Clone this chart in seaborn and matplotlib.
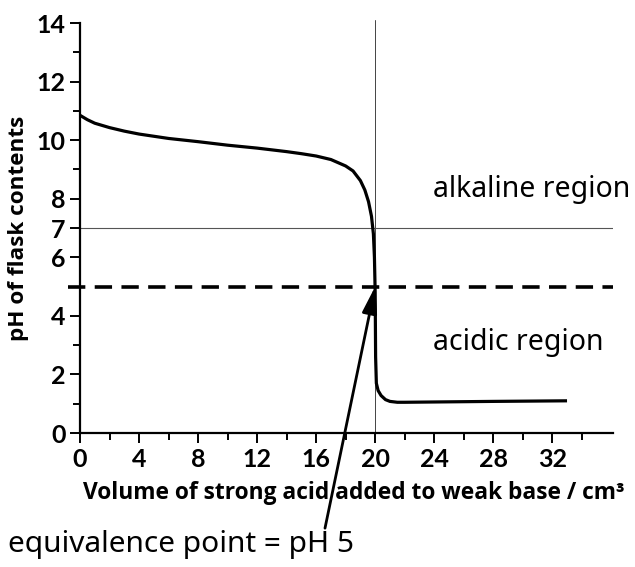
import matplotlib
matplotlib.use("Agg")
import matplotlib.pyplot as plt
import seaborn as sns
import numpy as np
import pandas as pd

# ---- data ----
volume = [0, 0.5, 1, 2, 3, 4, 6, 8, 10, 12, 14, 15, 16, 17, 18, 18.5, 19, 19.3,
          19.55, 19.75, 19.88, 19.95, 20.0, 20.03, 20.08, 20.2, 20.4, 20.7, 21.0,
          21.5, 22, 24, 28, 33]
ph = [10.85, 10.7, 10.58, 10.43, 10.31, 10.21, 10.06, 9.95, 9.83, 9.73, 9.61, 9.54,
      9.46, 9.34, 9.12, 8.95, 8.62, 8.3, 7.9, 7.4, 6.8, 6.0, 4.8, 2.6, 1.7, 1.45,
      1.28, 1.14, 1.08, 1.05, 1.05, 1.06, 1.08, 1.1]
x_major = [0, 4, 8, 12, 16, 20, 24, 28, 32]
x_minor = [2, 6, 10, 14, 18, 22, 26, 30, 34]
y_major = [0, 2, 4, 6, 7, 8, 10, 12, 14]
y_minor = [1, 3, 5, 9, 11, 13]
equivalence_volume = 20
equivalence_ph = 5
neutral_ph = 7

df = pd.DataFrame({"volume": volume, "ph": ph})

sns.set_style("ticks")
plt.rcParams["font.family"] = ["Lato", "DejaVu Sans"]

fig = plt.figure(figsize=(6.35, 5.67), dpi=100)
ax = fig.add_axes([0.126, 0.2363, 0.839, 0.723])

sns.lineplot(data=df, x="volume", y="ph", estimator=None, sort=False,
             color="black", linewidth=2.3, ax=ax, solid_capstyle="butt")

ax.set_xlim(0, 36.1)
ax.set_ylim(0, 14)

# reference lines
ax.plot([equivalence_volume, equivalence_volume], [0, 14.1], color="#444444",
        linewidth=0.7, clip_on=False, zorder=1)
ax.plot([0, 36.1], [neutral_ph, neutral_ph], color="#555555", linewidth=0.8,
        zorder=1)
ax.plot([-0.8, 36.1], [equivalence_ph, equivalence_ph], color="black",
        linewidth=2.6, dashes=(4.8, 2.6), clip_on=False, zorder=3)

ax.set_xticks(x_major)
ax.set_xticks(x_minor, minor=True)
ax.set_yticks(y_major)
ax.set_yticks(y_minor, minor=True)
ax.set_xticklabels([str(v) for v in x_major])
ax.set_yticklabels([str(v) for v in y_major])

ax.tick_params(axis="both", which="major", length=7, width=1.4, direction="out",
               labelsize=18, pad=3.5, color="black", labelcolor="black")
ax.tick_params(axis="both", which="minor", length=5, width=1.4, direction="out",
               color="black")
for lab in ax.get_xticklabels() + ax.get_yticklabels():
    lab.set_fontweight("bold")

for s in ["top", "right"]:
    ax.spines[s].set_visible(False)
for s in ["left", "bottom"]:
    ax.spines[s].set_linewidth(1.6)
    ax.spines[s].set_color("black")

lab_font = ["Open Sans", "DejaVu Sans"]
ax.set_xlabel("Volume of strong acid added to weak base / cm³", fontsize=16.4,
              fontweight="bold", family=lab_font, color="black")
ax.set_ylabel("pH of flask contents", fontsize=16.2, fontweight="bold",
              family=lab_font, color="black")
ax.xaxis.set_label_coords(0.513, -0.118)
ax.yaxis.set_label_coords(-0.095, 0.5)

ann_font = ["Noto Sans", "DejaVu Sans"]
ax.text(23.9, 8.3, "alkaline region", fontsize=20.5, family=ann_font,
        va="center", ha="left", color="black", clip_on=False)
ax.text(23.9, 3.1, "acidic region", fontsize=20.5, family=ann_font,
        va="center", ha="left", color="black", clip_on=False)
ax.text(-4.88, -3.82, "equivalence point = pH 5", fontsize=21.5, family=ann_font,
        va="center", ha="left", color="black", clip_on=False)

ax.annotate("", xy=(equivalence_volume, equivalence_ph), xytext=(16.6, -3.25),
            arrowprops=dict(arrowstyle="-|>,head_length=0.9,head_width=0.25",
                            lw=2, color="black", shrinkA=0, shrinkB=0,
                            mutation_scale=18),
            annotation_clip=False, zorder=4)

fig.savefig("out.png", dpi=100)
